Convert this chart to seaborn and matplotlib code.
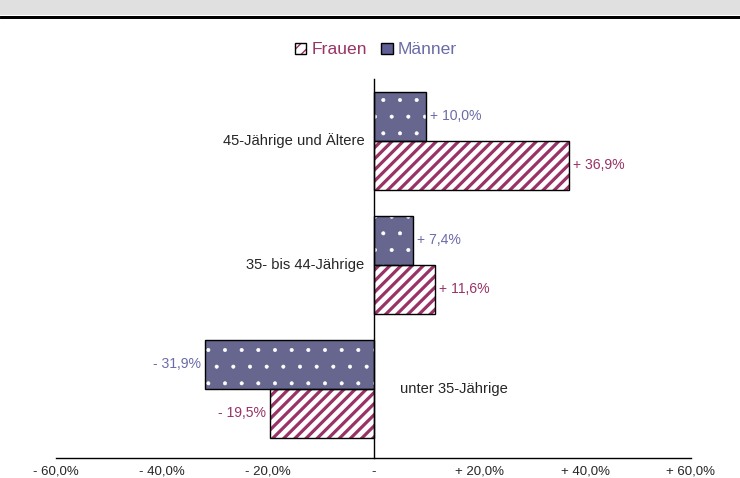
import matplotlib
import pandas as pd
import matplotlib.pyplot as plt
import seaborn as sns
from matplotlib.patches import Rectangle, Patch
from matplotlib.lines import Line2D

# data
groups = ['45-Jährige und Ältere', '35- bis 44-Jährige', 'unter 35-Jährige']
maenner = [10.0, 7.4, -31.9]
frauen = [36.9, 11.6, -19.5]
x_ticks = [-60, -40, -20, 0, 20, 40, 60]
x_tick_labels = ['- 60,0%', '- 40,0%', '- 20,0%', '-', '+ 20,0%', '+ 40,0%', '+ 60,0%']

df = pd.DataFrame({
    'Gruppe': groups * 2,
    'Geschlecht': ['Männer'] * 3 + ['Frauen'] * 3,
    'Wert': maenner + frauen,
})

DPI = 100
M_FILL = '#5f5f96'
M_TEXT = '#6b6ba8'
F_COL = '#993366'

sns.set_style('white')
plt.rcParams['font.family'] = ['Liberation Sans', 'DejaVu Sans']


def px(p):
    # pixels -> points
    return p * 72 / DPI


fig = plt.figure(figsize=(740 / DPI, 478 / DPI), dpi=DPI)
ax = fig.add_axes([56 / 740, 1 - 458 / 478, (691 - 56) / 740, (458 - 79) / 478])

sns.barplot(data=df, x='Wert', y='Gruppe', hue='Geschlecht',
            hue_order=['Männer', 'Frauen'], order=groups, orient='h',
            width=0.79, palette={'Männer': M_FILL, 'Frauen': 'white'},
            ax=ax, legend=False)

# textures: white dots on the men's bars, plum stripes on the women's bars
styles = [('.', 'white', px(0.6)), ('///', F_COL, px(3.2))]
for cont, (hatch, hcol, hlw) in zip(ax.containers, styles):
    for bar in cont:
        bar.set_linewidth(0)
        with plt.rc_context({'hatch.linewidth': hlw}):
            tex = Rectangle(bar.get_xy(), bar.get_width(), bar.get_height(),
                            fill=False, hatch=hatch, edgecolor=hcol, linewidth=0,
                            zorder=2.5)
        if hasattr(tex, 'set_hatch_linewidth'):
            tex.set_hatch_linewidth(hlw)
        ax.add_patch(tex)
        ax.add_patch(Rectangle(bar.get_xy(), bar.get_width(), bar.get_height(),
                               fill=False, edgecolor='black', linewidth=px(1.4),
                               zorder=3))

# value labels
for cont, vals, col in zip(ax.containers, [maenner, frauen], [M_TEXT, F_COL]):
    for bar, v in zip(cont, vals):
        yc = bar.get_y() + bar.get_height() / 2
        txt = ('+ ' if v >= 0 else '- ') + f'{abs(v):.1f}%'.replace('.', ',')
        ax.annotate(txt, xy=(v, yc), xytext=(px(4) if v >= 0 else -px(4), 0),
                    textcoords='offset points', ha='left' if v >= 0 else 'right',
                    va='center', color=col, fontsize=px(14))

# category labels next to the zero axis
for i, g in enumerate(groups):
    if min(maenner[i], frauen[i]) >= 0:
        ax.annotate(g, xy=(0, i), xytext=(-px(9), 0), textcoords='offset points',
                    ha='right', va='center', fontsize=px(14.8))
    else:
        ax.annotate(g, xy=(0, i), xytext=(px(26), 0), textcoords='offset points',
                    ha='left', va='center', fontsize=px(14.8))

ax.set_xlim(-60, 60)
ax.set_ylim(2.56, -0.5)
ax.set_xticks(x_ticks)
ax.set_xticklabels(x_tick_labels, fontsize=px(13.3))
ax.set_yticks([-0.5, 0.5, 1.5, 2.5])
ax.set_yticklabels([])
ax.set_xlabel('')
ax.set_ylabel('')
ax.spines['left'].set_position(('data', 0))
ax.spines['right'].set_visible(False)
ax.spines['top'].set_visible(False)
for s in ['left', 'bottom']:
    ax.spines[s].set_linewidth(px(1.4))
    ax.spines[s].set_color('black')
ax.tick_params(axis='x', direction='out', length=px(5), width=px(1.4), pad=px(3))
ax.tick_params(axis='y', direction='out', length=px(4), width=px(1.4))

# legend
handles = [
    (Patch(facecolor='white', edgecolor=F_COL, hatch='///', linewidth=0),
     Patch(fill=False, edgecolor='black', linewidth=px(1.4))),
    (Patch(facecolor=M_FILL, edgecolor='black', linewidth=px(1.4)),),
]
fig.legend(handles, ['Frauen', 'Männer'], loc='center', ncol=2,
           bbox_to_anchor=(376 / 740, 1 - 50 / 478), frameon=False,
           fontsize=px(17.5), labelcolor=[F_COL, M_TEXT], handlelength=0.65,
           handleheight=0.65, handletextpad=0.3, columnspacing=0.8)

# grey header band
fig.add_artist(Rectangle((0, 1 - 15 / 478), 1, 15 / 478, transform=fig.transFigure,
                         facecolor='#e0e0e0', edgecolor='none'))
fig.add_artist(Line2D([0, 1], [1 - 16.5 / 478] * 2, transform=fig.transFigure,
                      color='black', linewidth=px(3)))

fig.savefig('out.png', dpi=DPI)
